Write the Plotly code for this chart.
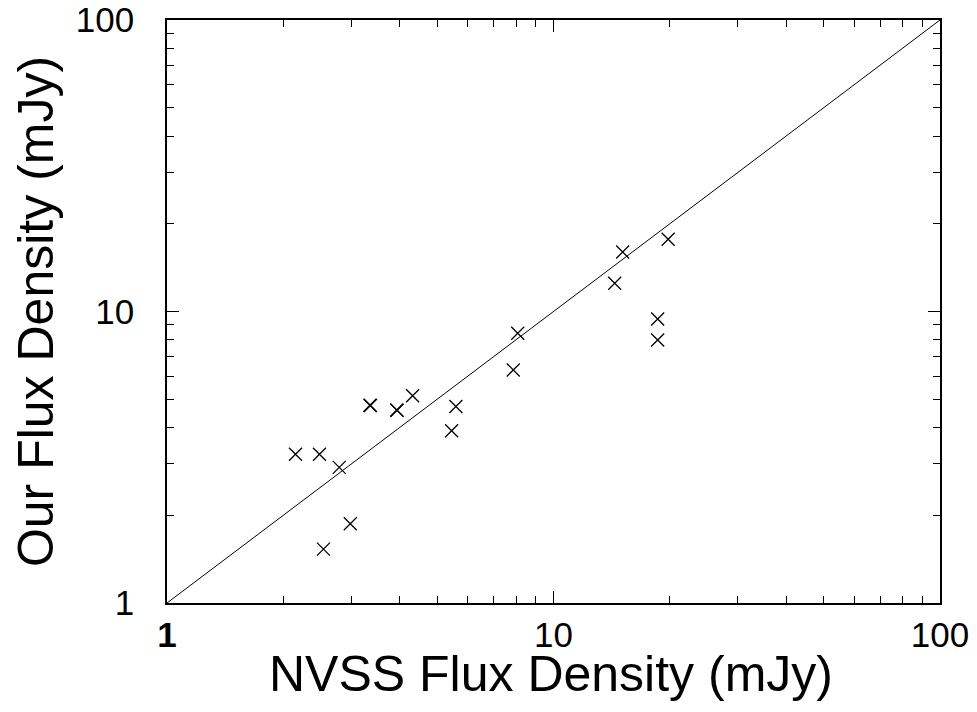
import plotly.graph_objects as go

nvss_flux = [2.15, 2.48, 2.79, 2.54, 2.98, 3.35, 3.36, 3.93, 3.94, 4.32, 5.59, 5.45, 7.87, 8.08, 14.4, 15.1, 19.8, 18.6, 18.6]
our_flux = [3.24, 3.24, 2.92, 1.53, 1.87, 4.77, 4.76, 4.59, 4.58, 5.14, 4.72, 3.90, 6.30, 8.42, 12.5, 16.0, 17.7, 9.42, 7.98]
line_vals = [1, 100]
major_ticks = [1, 10, 100]
x_tick_text = ["<b>1</b>", "10", "100"]
y_tick_text = ["1", "10", "100"]
minor_ticks = [2, 3, 4, 5, 6, 7, 8, 9, 20, 30, 40, 50, 60, 70, 80, 90]
x_title = "NVSS Flux Density (mJy)"
y_title = "Our Flux Density (mJy)"

FONT = "Liberation Sans, Arial, sans-serif"

fig = go.Figure()
fig.add_trace(go.Scatter(x=line_vals, y=line_vals, mode="lines",
                         line=dict(color="black", width=1), showlegend=False,
                         hoverinfo="skip"))
fig.add_trace(go.Scatter(x=nvss_flux, y=our_flux, mode="markers",
                         marker=dict(symbol="x-thin", size=13,
                                     line=dict(color="black", width=1.3)),
                         showlegend=False))

axis_common = dict(
    type="log", range=[0, 2], showgrid=False, zeroline=False, automargin=False,
    showline=True, linecolor="black", linewidth=1.5, mirror="ticks",
    ticks="inside", ticklen=12, tickwidth=1, tickcolor="black",
    tickvals=major_ticks, ticklabeloverflow="allow",
    minor=dict(ticks="inside", ticklen=7, tickwidth=1, tickcolor="black",
               tickvals=minor_ticks, showgrid=False),
    tickfont=dict(family=FONT, size=35, color="black"),
)

fig.update_xaxes(**axis_common, ticktext=x_tick_text, ticklabelstandoff=0)
fig.update_yaxes(**axis_common, ticktext=y_tick_text, ticklabelstandoff=24,
                 title=dict(text=y_title, standoff=42,
                            font=dict(family=FONT, size=50, color="black")))

fig.add_annotation(text=x_title, xref="paper", yref="paper", x=0.497, y=-0.121,
                   xanchor="center", yanchor="middle", showarrow=False,
                   font=dict(family=FONT, size=50, color="black"))

# the page body adds an 8px offset, so margins are reduced accordingly
fig.update_layout(width=969, height=704, margin=dict(l=159, r=37, t=12, b=109),
                  plot_bgcolor="white", paper_bgcolor="white")

fig.write_html("out.html")
